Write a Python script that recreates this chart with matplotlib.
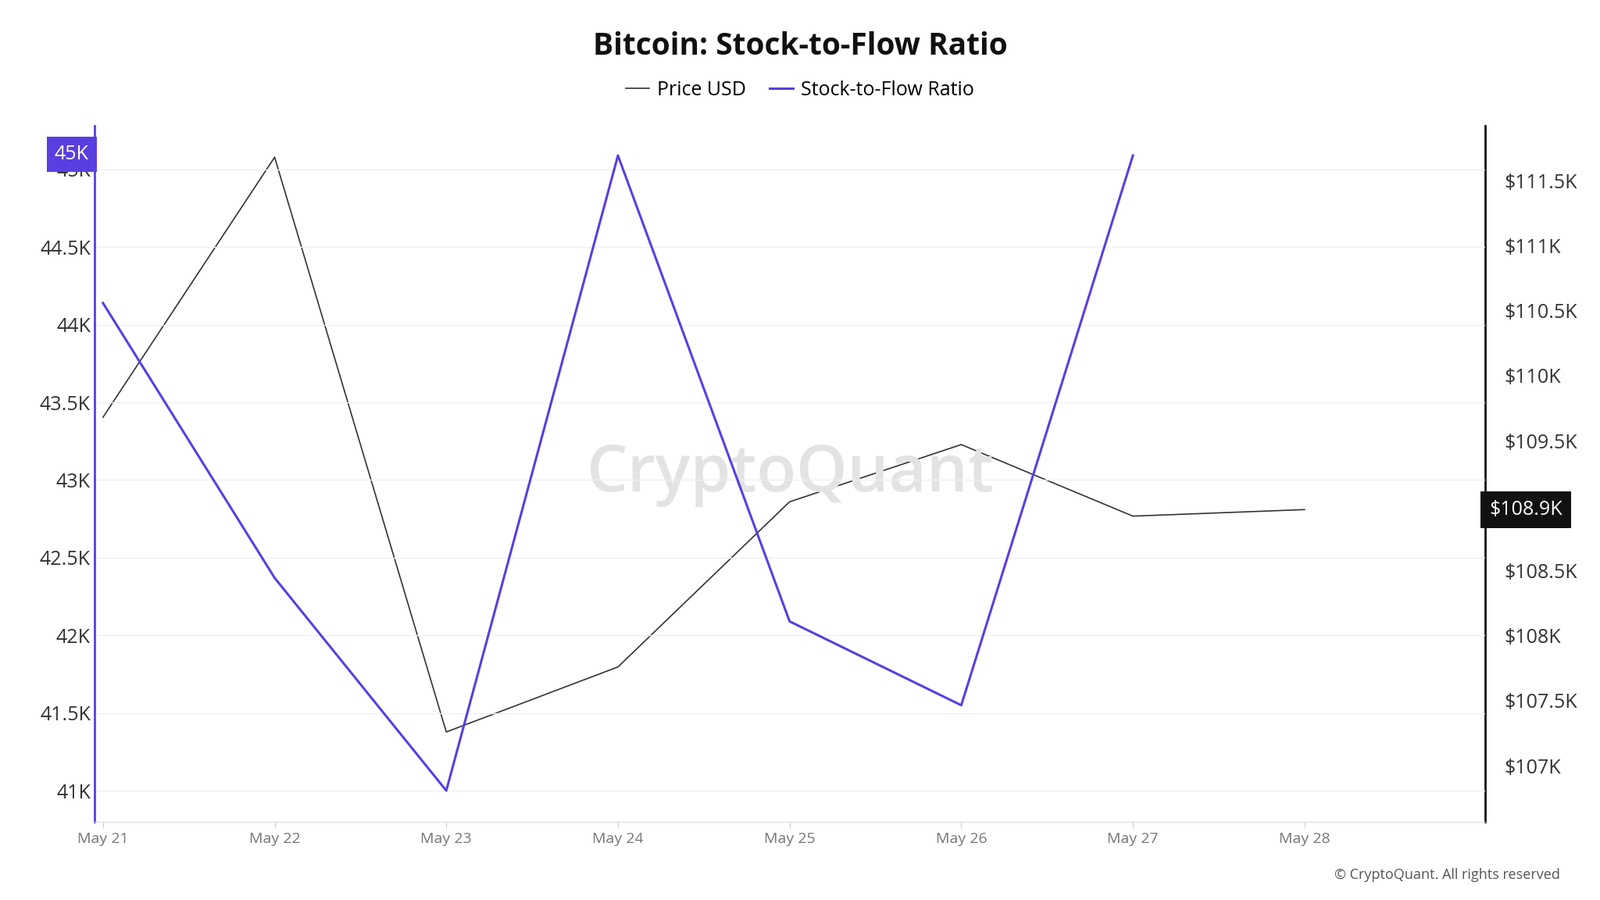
import matplotlib.pyplot as plt
import numpy as np

plt.rcParams['font.family'] = 'Open Sans'

dates = ['May 21', 'May 22', 'May 23', 'May 24', 'May 25', 'May 26', 'May 27', 'May 28']
price_usd = [109.68, 111.68, 107.26, 107.76, 109.03, 109.47, 108.92, 108.97]  # thousands
s2f_ratio = [44.14, 42.37, 41.0, 45.09, 42.09, 41.55, 45.09]  # thousands

PURPLE = '#5a3ee0'

fig = plt.figure(figsize=(20.48, 11.52), dpi=100)
ax = fig.add_axes([0.059, 0.087, 0.869, 0.773])
ax2 = ax.twinx()

x = np.arange(len(dates))
ax2.plot(x, price_usd, color='#333333', lw=1.2)
ax.plot(x[:len(s2f_ratio)], s2f_ratio, color=PURPLE, lw=2.2)
ax.set_zorder(ax2.get_zorder() + 1)
ax.patch.set_visible(False)

ax.set_xlim(-0.05, 8.05)
ax.set_ylim(40.8, 45.28)
ax2.set_ylim(106.57, 111.92)

ax.set_xticks(x)
ax.set_xticklabels(dates, fontsize=14, color='#777777')
lt = [41, 41.5, 42, 42.5, 43, 43.5, 44, 44.5, 45]
ax.set_yticks(lt)
ax.set_yticklabels([f'{v:g}K' for v in lt], fontsize=18, color='#333333')
rt = [107, 107.5, 108, 108.5, 109.5, 110, 110.5, 111, 111.5]
ax2.set_yticks(rt)
ax2.set_yticklabels([f'${v:g}K' for v in rt], fontsize=18, color='#333333')
ax.grid(axis='y', color='#f0f0f0', lw=1)
ax.tick_params(axis='y', length=0)
ax2.tick_params(axis='y', length=0, pad=18)
ax.tick_params(axis='x', length=6, color='#cccccc')

for s in ['top']:
    ax.spines[s].set_visible(False)
    ax2.spines[s].set_visible(False)
ax.spines['right'].set_visible(False)
ax.spines['left'].set_color(PURPLE)
ax.spines['left'].set_linewidth(2)
ax2.spines['left'].set_visible(False)
ax2.spines['right'].set_color('#111111')
ax2.spines['right'].set_linewidth(2)
ax.spines['bottom'].set_color('#dddddd')
ax2.spines['bottom'].set_visible(False)

ax.text(-0.004, 45.1, '45K', transform=ax.get_yaxis_transform(), ha='right', va='center',
        fontsize=18, color='white', bbox=dict(boxstyle='square,pad=0.4', fc=PURPLE, ec='none'))
ax2.text(1.003, price_usd[-1], '$108.9K', transform=ax2.get_yaxis_transform(), ha='left', va='center',
         fontsize=18, color='white', bbox=dict(boxstyle='square,pad=0.45', fc='#111111', ec='none'))

ax.text(0.5, 0.5, 'CryptoQuant', transform=ax.transAxes, ha='center', va='center',
        fontsize=60, color='#e3e3e3', fontweight='semibold', zorder=0)

fig.text(0.5, 0.948, 'Bitcoin: Stock-to-Flow Ratio', ha='center', va='center',
         fontsize=28, fontweight='bold', color='#111111')
ax.plot([], [], color='#333333', lw=1.2, label='Price USD')
ax.plot([], [], color=PURPLE, lw=2.2, label='Stock-to-Flow Ratio')
fig.legend(loc='center', bbox_to_anchor=(0.5, 0.9), ncol=2, frameon=False, fontsize=18,
           handlelength=1.2, columnspacing=1.2, handletextpad=0.4)
fig.text(0.975, 0.028, '© CryptoQuant. All rights reserved', ha='right', va='center',
         fontsize=13, color='#555555')

fig.savefig('out.png', dpi=100, facecolor='white')
